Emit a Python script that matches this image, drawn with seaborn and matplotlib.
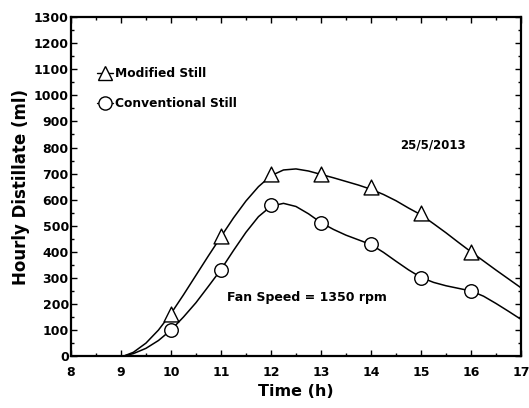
import numpy as np
import pandas as pd
import matplotlib
matplotlib.use('Agg')
import matplotlib.pyplot as plt
import seaborn as sns
from matplotlib.lines import Line2D
from matplotlib.ticker import MultipleLocator

# measured points (markers)
hours = [10, 11, 12, 13, 14, 15, 16]
modified = [160, 460, 700, 700, 650, 550, 400]
conventional = [100, 330, 580, 510, 430, 300, 250]

# fitted curves (quarter-hour steps)
curve_hours = [9.05, 9.25, 9.5, 9.75, 10, 10.25, 10.5, 10.75, 11, 11.25, 11.5, 11.75,
               12, 12.25, 12.5, 12.75, 13, 13.25, 13.5, 13.75, 14, 14.25, 14.5, 14.75,
               15, 15.25, 15.5, 15.75, 16, 16.25, 16.5, 16.75, 17]
modified_curve = [0, 15, 50, 100, 163, 235, 310, 385, 458, 530, 595, 650,
                  692, 714, 718, 710, 697, 684, 670, 656, 640, 620, 596, 568,
                  542, 508, 473, 436, 400, 365, 330, 296, 262]
conventional_curve = [0, 10, 30, 60, 100, 150, 205, 268, 332, 405, 475, 535,
                      575, 586, 574, 546, 512, 486, 464, 446, 428, 398, 364, 331,
                      302, 283, 270, 260, 250, 230, 202, 172, 141]

sns.set_style("ticks")
plt.rcParams['font.family'] = ['DejaVu Sans']
plt.rcParams['font.weight'] = 'bold'
plt.rcParams['text.color'] = 'black'
plt.rcParams['axes.labelcolor'] = 'black'
plt.rcParams['xtick.color'] = 'black'
plt.rcParams['ytick.color'] = 'black'

fig = plt.figure(figsize=(5.29, 4.08), dpi=100)
ax = fig.add_axes([0.134, 0.127, 0.851, 0.831])

sns.lineplot(x=curve_hours, y=modified_curve, color='black', lw=1.1, ax=ax)
sns.lineplot(x=curve_hours, y=conventional_curve, color='black', lw=1.1, ax=ax)

sns.scatterplot(x=hours, y=modified, marker='^', s=115, facecolor='white',
                edgecolor='black', linewidth=1.0, zorder=3, ax=ax)
sns.scatterplot(x=hours, y=conventional, marker='o', s=95, facecolor='white',
                edgecolor='black', linewidth=1.0, zorder=3, ax=ax)

ax.set_xlim(8, 17)
ax.set_ylim(0, 1300)
ax.xaxis.set_major_locator(MultipleLocator(1))
ax.xaxis.set_minor_locator(MultipleLocator(0.5))
ax.yaxis.set_major_locator(MultipleLocator(100))
ax.yaxis.set_minor_locator(MultipleLocator(50))
ax.tick_params(which='both', direction='in', top=True, right=True, width=1,
               labelsize=9, colors='black')
ax.tick_params(axis='x', pad=7)
ax.tick_params(axis='y', pad=1.5)
ax.tick_params(which='major', length=4)
ax.tick_params(which='minor', length=2)
for lab in ax.get_xticklabels() + ax.get_yticklabels():
    lab.set_fontweight('bold')
for sp in ax.spines.values():
    sp.set_linewidth(1.6)
    sp.set_color('black')

ax.set_xlabel('Time (h)', fontsize=11.5, fontweight='bold', labelpad=4)
ax.set_ylabel('Hourly Distillate (ml)', fontsize=12, fontweight='bold', labelpad=3)

ax.text(15.24, 809, '25/5/2013', fontsize=8.5, fontweight='bold', ha='center', va='center')
ax.text(12.72, 226, 'Fan Speed = 1350 rpm', fontsize=9, fontweight='bold', ha='center', va='center')

handles = [
    Line2D([0], [0], color='black', lw=1, marker='^', markersize=10.5,
           markerfacecolor='white', markeredgecolor='black'),
    Line2D([0], [0], color='black', lw=1, marker='o', markersize=9.5,
           markerfacecolor='white', markeredgecolor='black'),
]
leg = ax.legend(handles, ['Modified Still', 'Conventional Still'], loc='upper left',
                bbox_to_anchor=(0.058, 0.852), frameon=False, handlelength=1.3,
                handletextpad=0.15, labelspacing=1.35, borderpad=0, borderaxespad=0,
                prop={'size': 8.8, 'weight': 'bold'})

fig.savefig('out.png', dpi=100)
